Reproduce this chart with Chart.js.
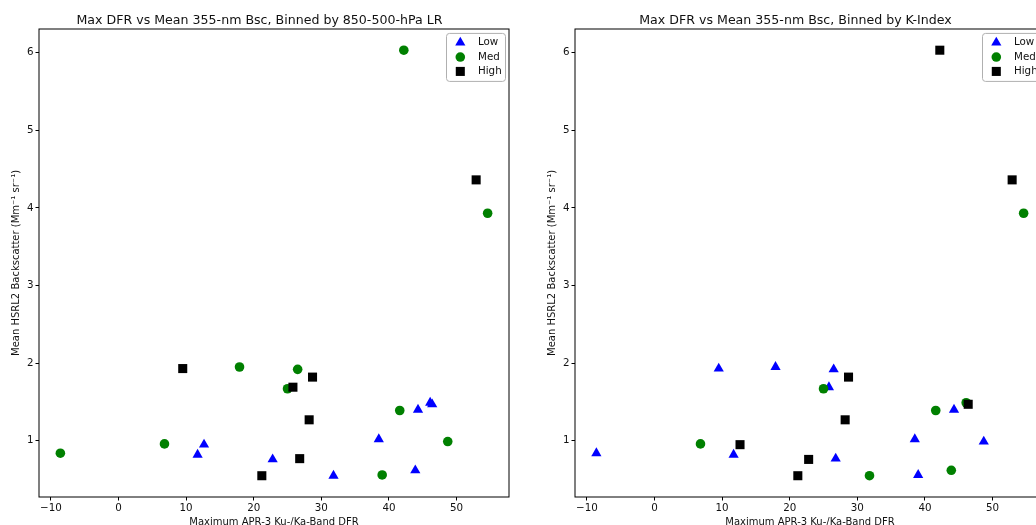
<!DOCTYPE html>
<html>
<head>
<meta charset="utf-8">
<script src="https://cdn.jsdelivr.net/npm/chart.js@4.4.1/dist/chart.umd.min.js"></script>
<style>
  html, body { margin: 0; padding: 0; background: #fff; }
  #wrap { position: relative; width: 1036px; height: 525px; overflow: hidden; }
  canvas { position: absolute; top: 0; }
  #chartLR { left: 0; }
  #chartK { left: 536px; }
</style>
</head>
<body>
<div id="wrap">
  <canvas id="chartLR" width="520" height="540"></canvas>
  <canvas id="chartK" width="520" height="540"></canvas>
</div>
<script>
// bins and how each is drawn
const bins = ["Low", "Med", "High"];
const binColors = ["#0000ff", "#008000", "#000000"];
const binMarkers = ["triangle", "circle", "rect"];
const binSizes = [5.9, 4.8, 6.4];

// one entry per case: max DFR, mean backscatter, bin by lapse rate, bin by K-index
const dfr = [-8.6, 6.8, 9.5, 11.7, 12.65, 17.9, 21.2, 22.8, 25.0, 25.8, 26.5, 26.8, 28.2,
             28.7, 31.8, 38.5, 39.0, 41.6, 42.2, 43.9, 44.3, 46.1, 46.4, 48.7, 52.9, 54.6];
const bsc = [0.84, 0.96, 1.93, 0.82, 0.95, 1.95, 0.55, 0.76, 1.67, 1.69, 1.92, 0.77, 1.27,
             1.82, 0.55, 1.02, 0.56, 1.39, 6.03, 0.62, 1.40, 1.49, 1.47, 0.99, 4.36, 3.93];
const lrBin = ["Med", "Med", "High", "Low", "Low", "Med", "High", "Low", "Med", "High", "Med", "High", "High",
               "High", "Low", "Low", "Med", "Med", "Med", "Low", "Low", "Low", "Low", "Med", "High", "Med"];
const kBin = ["Low", "Med", "Low", "Low", "High", "Low", "High", "High", "Med", "Low", "Low", "Low", "High",
              "High", "Med", "Low", "Low", "Med", "High", "Med", "Low", "Med", "High", "Low", "High", "Med"];

const xTicks = [-10, 0, 10, 20, 30, 40, 50];
const yTicks = [1, 2, 3, 4, 5, 6];

const font = "'DejaVu Sans', sans-serif";
const textColor = "#111";

// 5% margins like matplotlib autoscale
const xMin = -11.76, xMax = 57.76;
const yMin = 0.276, yMax = 6.304;

const frameAndLegend = {
    id: "frameAndLegend",
    afterDraw(chart) {
        const { ctx, chartArea: a } = chart;
        ctx.save();
        ctx.strokeStyle = "#000";
        ctx.lineWidth = 1;
        ctx.strokeRect(Math.round(a.left), Math.round(a.top), Math.round(a.right - a.left), Math.round(a.bottom - a.top));

        // legend box, top right inside the axes
        const w = 59, h = 48;
        const bx = a.right - 4 - w, by = a.top + 4;
        ctx.beginPath();
        if (ctx.roundRect) ctx.roundRect(bx + 0.5, by + 0.5, w, h, 3);
        else ctx.rect(bx + 0.5, by + 0.5, w, h);
        ctx.fillStyle = "rgba(255,255,255,0.8)";
        ctx.fill();
        ctx.strokeStyle = "#b0b0b0";
        ctx.stroke();

        chart.data.datasets.forEach((ds, i) => {
            const y = by + 9.7 + i * 14.4;
            ctx.fillStyle = ds.backgroundColor;
            Chart.helpers.drawPoint(ctx, { pointStyle: ds.pointStyle, radius: ds.pointRadius, rotation: 0, borderWidth: 0 }, bx + 14.3, y);
            ctx.fillStyle = textColor;
            ctx.font = "10.3px " + font;
            ctx.textAlign = "left";
            ctx.textBaseline = "middle";
            ctx.fillText(ds.label, bx + 32, y);
        });
        ctx.restore();
    },
};

function makeChart(id, title, binOf) {
    const datasets = bins.map((b, i) => ({
        label: b,
        data: dfr.map((x, j) => ({ x: x, y: bsc[j] })).filter((p, j) => binOf[j] === b),
        pointStyle: binMarkers[i],
        pointRadius: binSizes[i],
        backgroundColor: binColors[i],
        borderColor: binColors[i],
        borderWidth: 0,
        order: 2 - i, // later bins drawn on top
    }));

    const axisGrid = { drawOnChartArea: false, drawTicks: true, tickLength: 3.5, color: "#000", lineWidth: 1 };

    return new Chart(document.getElementById(id), {
        type: "scatter",
        data: { datasets: datasets },
        plugins: [frameAndLegend],
        options: {
            responsive: false,
            animation: false,
            events: [],
            layout: { padding: { left: 10, right: 11, top: 0, bottom: 12 } },
            plugins: {
                legend: { display: false },
                tooltip: { enabled: false },
                title: {
                    display: true,
                    text: title,
                    color: textColor,
                    font: { family: font, size: 12.6, weight: "normal" },
                    padding: { top: 13.2, bottom: 0.6 },
                },
            },
            scales: {
                x: {
                    type: "linear",
                    min: xMin,
                    max: xMax,
                    afterBuildTicks: (ax) => { ax.ticks = xTicks.map((v) => ({ value: v })); },
                    afterFit: (ax) => { ax.height = 31; },
                    grid: axisGrid,
                    border: { display: false },
                    ticks: {
                        color: textColor,
                        font: { family: font, size: 10.3 },
                        padding: 2,
                        maxRotation: 0,
                        callback: (v) => String(v).replace("-", "\u2212"),
                    },
                    title: {
                        display: true,
                        text: "Maximum APR-3 Ku-/Ka-Band DFR",
                        color: textColor,
                        font: { family: font, size: 10 },
                        padding: 0,
                    },
                },
                y: {
                    type: "linear",
                    min: yMin,
                    max: yMax,
                    afterBuildTicks: (ax) => { ax.ticks = yTicks.map((v) => ({ value: v })); },
                    afterFit: (ax) => { ax.width = 29; },
                    grid: axisGrid,
                    border: { display: false },
                    ticks: {
                        color: textColor,
                        font: { family: font, size: 10.3 },
                        padding: 2,
                    },
                    title: {
                        display: true,
                        text: "Mean HSRL2 Backscatter (Mm\u207B\u00B9 sr\u207B\u00B9)",
                        color: textColor,
                        font: { family: font, size: 10 },
                        padding: 0,
                    },
                },
            },
        },
    });
}

var chartLR = makeChart("chartLR", "Max DFR vs Mean 355-nm Bsc, Binned by 850-500-hPa LR", lrBin);
var chartK = makeChart("chartK", "Max DFR vs Mean 355-nm Bsc, Binned by K-Index", kBin);
</script>
</body>
</html>
